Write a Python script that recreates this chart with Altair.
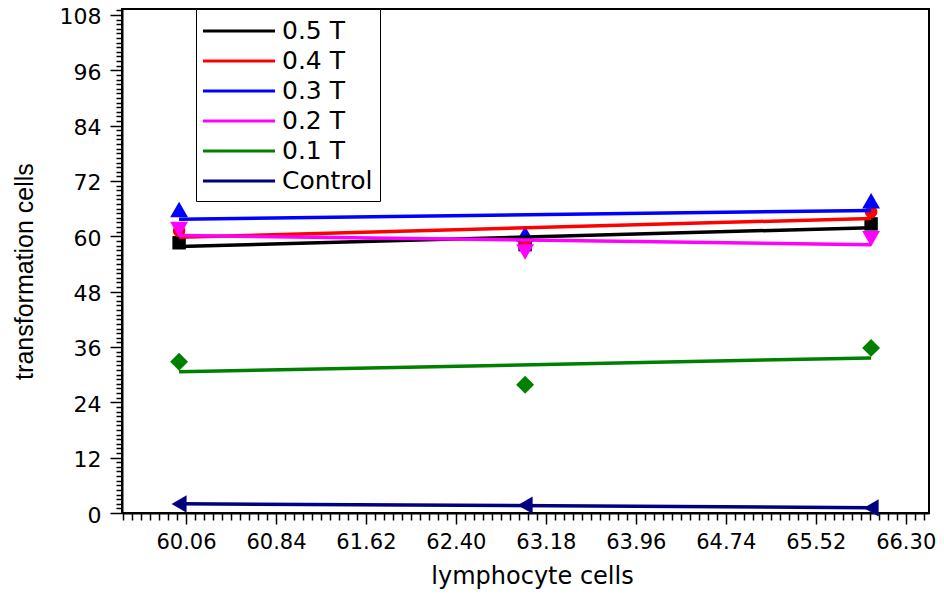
import altair as alt
import pandas as pd

# ---- data ----
series = ["0.5 T", "0.4 T", "0.3 T", "0.2 T", "0.1 T", "Control"]
colors = ["#000000", "#ff0000", "#0000ff", "#ff00ff", "#008000", "#000080"]
shapes = ["square", "circle", "triangle-up", "triangle-down", "diamond", "triangle-left"]
marker_sizes = [180, 160, 320, 320, 320, 300]

lymphocyte = [60.0, 63.0, 66.0]
t05 = [58.6, 58.2, 62.7]
t04 = [61.2, 59.0, 65.3]
t03 = [65.8, 60.5, 67.7]
t02 = [61.5, 56.6, 59.5]
t01 = [32.8, 27.8, 35.8]
control = [1.95, 1.7, 1.1]

x_major = [60.06, 60.84, 61.62, 62.40, 63.18, 63.96, 64.74, 65.52, 66.30]
x_minor_step = 0.078
y_major = [0, 12, 24, 36, 48, 60, 72, 84, 96, 108]
y_minor_step = 1

x_domain = [59.505, 66.502]
y_domain = [0, 109.3]

# ---- table ----
values = [t05, t04, t03, t02, t01, control]
rows = []
for name, ys in zip(series, values):
    for xv, yv in zip(lymphocyte, ys):
        rows.append({"series": name, "x": xv, "y": yv})
df = pd.DataFrame(rows)

# point scales use the data-derived (alphabetical) domain, so their hidden
# legends are not merged with the colour legend of the fitted lines
alpha_order = sorted(series)
pt_colors = [colors[series.index(s)] for s in alpha_order]
pt_shapes = [shapes[series.index(s)] for s in alpha_order]
pt_sizes = [marker_sizes[series.index(s)] for s in alpha_order]

x_ticks = [round(x_major[0] + x_minor_step * i, 3) for i in range(-7, 83)]
y_ticks = [y_minor_step * i for i in range(0, 110)]

FONT = "DejaVu Sans"

x_test = "abs((datum.value - 60.06) / 0.78 - round((datum.value - 60.06) / 0.78)) < 0.01"
y_test = "datum.value % 12 == 0"

x_axis = alt.Axis(
    values=x_ticks,
    labelExpr=f"({x_test}) ? format(datum.value, '.2f') : ''",
    tickSize={"condition": {"test": x_test, "value": 11}, "value": 7},
    tickWidth=1.5,
    tickColor="black",
    domainColor="black",
    domainWidth=2,
    labelFont=FONT,
    labelFontSize=21,
    labelColor="black",
    labelPadding=7,
    labelOverlap=False,
    labelFlush=False,
    labelBound=False,
    grid=False,
    title="lymphocyte cells",
    titleFont=FONT,
    titleFontSize=24,
    titleFontWeight="normal",
    titleColor="black",
    titleX=410,
    titleY=51,
)

y_axis = alt.Axis(
    values=y_ticks,
    labelExpr=f"({y_test}) ? format(datum.value, 'd') : ''",
    tickSize={"condition": {"test": y_test, "value": 12}, "value": 6},
    tickWidth=1.5,
    tickColor="black",
    domainColor="black",
    domainWidth=2,
    labelFont=FONT,
    labelFontSize=22,
    labelColor="black",
    labelPadding=9,
    labelOffset=2,
    labelOverlap=False,
    labelFlush=False,
    labelBound=False,
    grid=False,
    title="transformation cells",
    titleFont="Liberation Sans",
    titleFontSize=25,
    titleFontWeight="normal",
    titleColor="black",
    titleX=-85,
    titleY=262,
)

x_enc = alt.X("x:Q", scale=alt.Scale(domain=x_domain, nice=False, zero=False), axis=x_axis)
y_enc = alt.Y("y:Q", scale=alt.Scale(domain=y_domain, nice=False), axis=y_axis)

legend = alt.Legend(
    title=None,
    orient="none",
    legendX=74,
    legendY=0,
    symbolType="M-2.67,0H2.67",
    symbolSize=729,
    symbolStrokeWidth=3,
    symbolOffset=21,
    rowPadding=2,
    labelFont=FONT,
    labelFontSize=25,
    labelColor="black",
    labelOffset=28,
    strokeColor="black",
    fillColor="white",
    padding=7,
)

base = alt.Chart(df)

points = base.mark_point(filled=True, opacity=1, strokeWidth=0).encode(
    x=x_enc,
    y=y_enc,
    fill=alt.Fill("series:N", scale=alt.Scale(range=pt_colors), legend=None),
    shape=alt.Shape("series:N", scale=alt.Scale(range=pt_shapes), legend=None),
    size=alt.Size("series:O", scale=alt.Scale(type="ordinal", range=pt_sizes), legend=None),
)

lines = base.transform_regression("x", "y", groupby=["series"]).mark_line(strokeWidth=3.5).encode(
    x=x_enc,
    y=y_enc,
    color=alt.Color("series:N", scale=alt.Scale(domain=series, range=colors), legend=legend),
)

chart = alt.layer(points, lines).properties(
    width=807,
    height=504,
    autosize=alt.AutoSizeParams(type="none"),
    padding={"left": 114, "top": 1, "right": 7, "bottom": 76},
    background="white",
).configure_view(stroke="black", strokeWidth=2)

chart.save("out.html", embed_options={"renderer": "svg", "actions": False})
